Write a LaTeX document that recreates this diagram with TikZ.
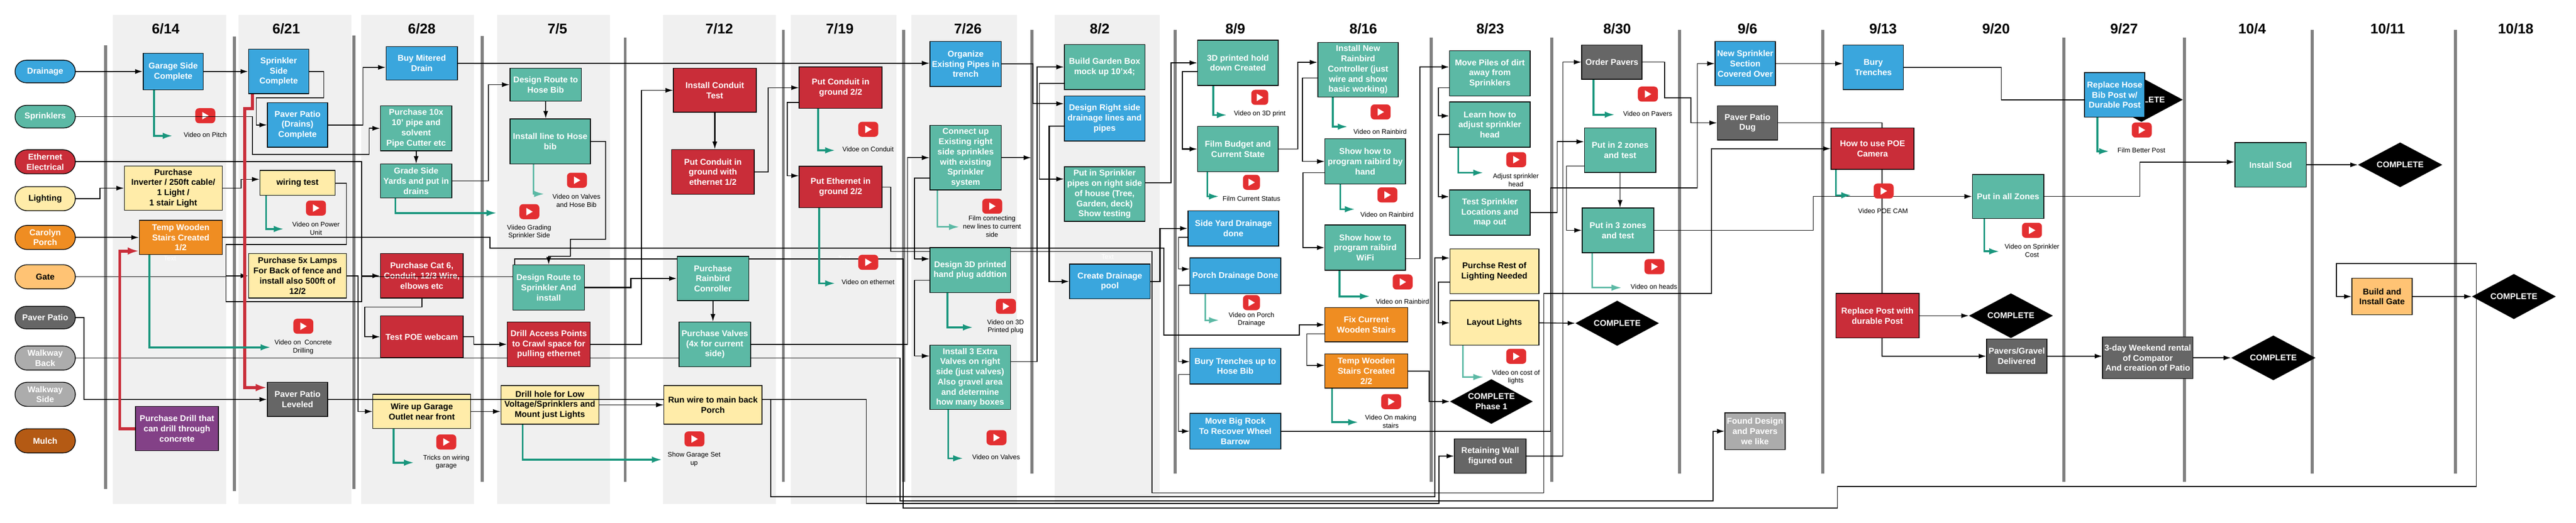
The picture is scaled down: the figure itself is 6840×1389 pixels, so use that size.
\documentclass[tikz,border=0pt]{standalone}
\usepackage{fontspec}
\setmainfont{Liberation Sans}
\usetikzlibrary{arrows.meta, shapes.geometric, shapes.misc}
\definecolor{blu}{HTML}{3AA6DD}
\definecolor{tea}{HTML}{5CB9A5}
\definecolor{crim}{HTML}{C92D39}
\definecolor{yel}{HTML}{FFECA9}
\definecolor{ora}{HTML}{EF8D22}
\definecolor{gat}{HTML}{FFC374}
\definecolor{dgr}{HTML}{666666}
\definecolor{lgr}{HTML}{ACACAC}
\definecolor{mul}{HTML}{B45A14}
\definecolor{pur}{HTML}{834187}
\definecolor{vid}{HTML}{19967D}
\definecolor{tube}{HTML}{E32F31}
\pgfdeclarelayer{band}
\pgfdeclarelayer{top}
\pgfsetlayers{band,main,top}
\tikzset{
  wh/.style 2 args={minimum width=#1*0.5pt, minimum height=#2*0.5pt},
  chore/.style={draw=black, line width=1pt, inner sep=0pt, align=center, text=white,
    font=\bfseries\fontsize{11.2}{13.5}\selectfont},
  lane/.style={chore, rounded rectangle, wh={160}{#1}},
  darkchore/.style={chore, text=black},
  done/.style={diamond, fill=black, inner sep=0pt, aspect=1.85, align=center, text=white,
    font=\bfseries\fontsize{11.2}{13.5}\selectfont},
  date/.style={inner sep=0pt, font=\bfseries\fontsize{18.8}{20}\selectfont},
  vidtext/.style={inner sep=0pt, align=center, font=\fontsize{8.9}{10.7}\selectfont},
  ghost/.style={vidtext, text=white},
  tube/.style={fill=tube, rounded corners=5pt, inner sep=0pt, wh={#1}{40},
    path picture={\fill[white, sharp corners] ([shift={(-8,-10)}]path picture bounding box.center) --
      ([shift={(-8,10)}]path picture bounding box.center) --
      ([shift={(9,0)}]path picture bounding box.center) -- cycle;}},
  tube/.default=53,
  flow/.style={draw=black, line width=1.1pt, -{Latex[length=10pt,width=6.5pt]}},
  heavy/.style={line width=1.5pt},
  vidflow/.style={draw=vid, line width=2.5pt, -{Latex[length=13.5pt,width=8.5pt]}},
  vidpale/.style={draw=tea, line width=2pt, -{Latex[length=13.5pt,width=8.5pt]}},
  redflow/.style={draw=crim, line width=4pt, -{Latex[length=15pt,width=10pt]}},
  week/.style={draw=none, fill=black!50},
}
\begin{document}
\begin{tikzpicture}[x=0.5pt, y=-0.5pt]
  \useasboundingbox (0,0) rectangle (6840,1389);

  \begin{pgfonlayer}{band}
    \foreach \xa/\xb in {300/600, 633/933, 959/1259, 1320/1620, 1760/2060,
      2100/2380, 2420/2700, 2800/3080}
      \fill[black!6] (\xa,40) rectangle (\xb,1339);
    \foreach \xc/\ya/\yb in {280/120/1300, 622/97/1305, 940/95/1300, 1280/96/1280,
      1660/100/1280, 2080/80/1280, 2400/80/1280, 2740/80/1259, 3120/80/1259,
      3800/100/1280, 4120/100/1280, 4460/80/1259, 4840/80/1259, 5480/100/1280,
      5800/100/1280, 6140/80/1259, 6520/80/1259}
      \fill[week] (\xc-4,\ya) rectangle (\xc+4,\yb);
  \end{pgfonlayer}

  \foreach \dx/\dl in {440/6\slash14, 760/6\slash21, 1120/6\slash28, 1480/7\slash5,
    1910/7\slash12, 2230/7\slash19, 2570/7\slash26, 2920/8\slash2, 3280/8\slash9,
    3620/8\slash16, 3957/8\slash23, 4294/8\slash30, 4640/9\slash6, 5000/9\slash13,
    5300/9\slash20, 5640/9\slash27, 5980/10\slash4, 6340/10\slash11, 6680/10\slash18}
    \node[date] at (\dx,76) {\dl};

  \node[lane=60, fill=blu] (drainage) at (120,190) {Drainage};
  \node[lane=60, fill=tea] (sprinklers) at (120,310) {Sprinklers};
  \node[lane=64, fill=crim] (ethernet) at (120,430) {Ethernet\\Electrical};
  \node[lane=64, fill=yel, text=black] (lighting) at (120,528) {Lighting};
  \node[lane=64, fill=ora] (porch) at (120,631) {Carolyn\\Porch};
  \node[lane=64, fill=gat, text=black] (gate) at (120,735.5) {Gate};
  \node[lane=60, fill=dgr] (paver) at (120,844) {Paver Patio};
  \node[lane=64, fill=lgr] (walkback) at (120,951.5) {Walkway\\Back};
  \node[lane=64, fill=lgr] (walkside) at (120,1048) {Walkway\\Side};
  \node[lane=64, fill=mul] (mulch) at (120,1171.5) {Mulch};

  \node[chore, fill=blu, wh={160}{97}] (garageside) at (460,190) {Garage Side\\Complete};
  \node[chore, fill=blu, wh={160}{118}] (sprinklerside) at (740,190) {Sprinkler\\Side\\Complete};
  \node[chore, fill=blu, wh={160}{118}] (patiodrains) at (790,332) {Paver Patio\\(Drains)\\Complete};
  \node[darkchore, fill=yel, wh={260}{118}] (inverter) at (460,500) {Purchase\\Inverter / 250ft cable/\\1 Light /\\1 stair Light};
  \node[darkchore, fill=yel, wh={200}{67}] (wiring) at (790,486) {wiring test};
  \node[chore, fill=ora, wh={220}{91}] (stairsone) at (480,631) {Temp Wooden\\Stairs Created\\1/2};
  \node[darkchore, fill=yel, wh={260}{118}] (lamps) at (790,733) {Purchase 5x Lamps\\For Back of fence and\\install also 500ft of\\12/2};
  \node[chore, fill=dgr, wh={160}{91}] (leveled) at (790,1061.5) {Paver Patio\\Leveled};
  \node[chore, fill=pur, wh={220}{118}] (drill) at (470,1139) {Purchase Drill that\\can drill through\\concrete};

  \node[chore, fill=blu, wh={190}{89}] (mitered) at (1120,168) {Buy Mitered\\Drain};
  \node[chore, fill=tea, wh={190}{120}] (tenpipe) at (1105,341) {Purchase 10x\\10' pipe and\\solvent\\Pipe Cutter etc};
  \node[chore, fill=tea, wh={190}{90}] (gradeside) at (1105,481) {Grade Side\\Yards and put in\\drains};
  \node[chore, fill=crim, wh={220}{118}] (catsix) at (1120,733) {Purchase Cat 6,\\Conduit, 12/3 Wire,\\elbows etc};
  \node[chore, fill=crim, wh={220}{111}] (webcam) at (1120,895) {Test POE webcam};
  \node[darkchore, fill=yel, wh={260}{91}] (outlet) at (1120,1093.5) {Wire up Garage\\Outlet near front};

  \node[chore, fill=tea, wh={190}{88}] (routebib) at (1449,225) {Design Route to\\Hose Bib};
  \node[chore, fill=tea, wh={213}{120}] (linebib) at (1461,376) {Install line to Hose\\bib};
  \node[darkchore, fill=yel, wh={260}{103}] (drillhole) at (1460,1076) {Drill hole for Low\\Voltage/Sprinklers and\\Mount just Lights};

  \node[chore, fill=crim, wh={220}{117}] (conduittest) at (1898,240) {Install Conduit\\Test};
  \node[chore, fill=crim, wh={220}{119}] (conduitone) at (1893,457) {Put Conduit in\\ground with\\ethernet 1/2};
  \node[chore, fill=crim, wh={220}{110}] (conduittwo) at (2232,233) {Put Conduit in\\ground 2/2};
  \node[chore, fill=crim, wh={220}{110}] (ethertwo) at (2232,497) {Put Ethernet in\\ground 2/2};

  \node[chore, fill=blu, wh={190}{120}] (organize) at (2564,170) {Organize\\Existing Pipes in\\trench};
  \node[chore, fill=tea, wh={190}{172}] (connect) at (2564,419) {Connect up\\Existing right\\side sprinkles\\with existing\\Sprinkler\\system};
  \node[chore, fill=tea, wh={214}{171}] (extravalves) at (2576,1003) {Install 3 Extra\\Valves on right\\side (just valves)\\Also gravel area\\and determine\\how many boxes};

  \node[chore, fill=tea, wh={214}{120}] (gardenbox) at (2933,178) {Build Garden Box\\mock up 10'x4;};
  \node[chore, fill=blu, wh={214}{120}] (rightside) at (2933,315) {Design Right side\\drainage lines and\\pipes};
  \node[chore, fill=tea, wh={214}{145}] (pipesright) at (2933,516) {Put in Sprinkler\\pipes on right side\\of house (Tree,\\Garden, deck)\\Show testing};
  \node[chore, fill=blu, wh={214}{92}] (pool) at (2947,748) {Create Drainage\\pool};

  \node[chore, fill=tea, wh={214}{120}] (holddown) at (3287,167) {3D printed hold\\down Created};
  \node[chore, fill=tea, wh={214}{120}] (budget) at (3287,396) {Film Budget and\\Current State};
  \node[chore, fill=blu, wh={241}{94}] (sideyard) at (3275,607) {Side Yard Drainage\\done};
  \node[chore, fill=blu, wh={241}{95}] (porchdrain) at (3280,733) {Porch Drainage Done};
  \node[chore, fill=blu, wh={241}{95}] (trenchbib) at (3280,973) {Bury Trenches up to\\Hose Bib};
  \node[chore, fill=blu, wh={241}{95}] (bigrock) at (3280,1146) {Move Big Rock\\To Recover Wheel\\Barrow};

  \node[chore, fill=tea, wh={214}{145}] (newrainbird) at (3606,185) {Install New\\Rainbird\\Controller (just\\wire and show\\basic working)};
  \node[chore, fill=tea, wh={214}{120}] (byhand) at (3625,429) {Show how to\\program raibird by\\hand};
  \node[chore, fill=tea, wh={214}{120}] (wifi) at (3625,658) {Show how to\\program raibird\\WiFi};
  \node[chore, fill=ora, wh={220}{91}] (fixstairs) at (3628,863) {Fix Current\\Wooden Stairs};
  \node[chore, fill=ora, wh={220}{91}] (stairstwo) at (3628,986) {Temp Wooden\\Stairs Created\\2/2};

  \node[chore, fill=tea, wh={214}{120}] (piles) at (3956,195) {Move Piles of dirt\\away from\\Sprinklers};
  \node[chore, fill=tea, wh={214}{120}] (learnhead) at (3956,331) {Learn how to\\adjust sprinkler\\head};
  \node[chore, fill=tea, wh={214}{120}] (testloc) at (3956,565) {Test Sprinkler\\Locations and\\map out};
  \node[darkchore, fill=yel, wh={236}{119}] (restlights) at (3968,721) {Purchse Rest of\\Lighting Needed};
  \node[darkchore, fill=yel, wh={236}{118}] (layout) at (3968,858) {Layout Lights};
  \node[done, wh={220}{119}] (phaseone) at (3960,1067) {COMPLETE\\Phase 1};
  \node[chore, fill=dgr, wh={190}{91}] (retaining) at (3957,1212) {Retaining Wall\\figured out};

  \node[chore, fill=dgr, wh={160}{91}] (orderpavers) at (4280,165) {Order Pavers};
  \node[chore, fill=tea, wh={190}{118}] (twozones) at (4302,399) {Put in 2 zones\\and test};
  \node[chore, fill=tea, wh={190}{119}] (threezones) at (4296,612) {Put in 3 zones\\and test};
  \node[done, wh={222}{120}] (lightsdone) at (4294,859) {COMPLETE};

  \node[chore, fill=blu, wh={160}{118}] (covered) at (4634,169) {New Sprinkler\\Section\\Covered Over};
  \node[chore, fill=dgr, wh={160}{91}] (dug) at (4640,326.5) {Paver Patio\\Dug};
  \node[chore, fill=lgr, wh={160}{98}] (founddesign) at (4660,1146) {Found Design\\and Pavers\\we like};

  \node[chore, fill=blu, wh={160}{118}] (burytrench) at (4974,179) {Bury\\Trenches};
  \node[chore, fill=tea, wh={190}{117}] (allzones) at (5332,522) {Put in all Zones};
  \node[done, wh={223}{119}] (postdone) at (5339.5,839) {COMPLETE};
  \node[chore, fill=dgr, wh={160}{91}] (delivered) at (5355,946.5) {Pavers/Gravel\\Delivered};
  \node[done, wh={220}{118}] (hosedone) at (5686,265) {COMPLETE};
  \node[chore, fill=dgr, wh={240}{111}] (compactor) at (5703,951) {3-day Weekend rental\\of Compator\\And creation of Patio};
  \node[chore, fill=tea, wh={190}{118}] (sod) at (6029,438) {Install Sod};
  \node[done, wh={224}{119}] (patiodone) at (6036.3,951) {COMPLETE};
  \node[done, wh={224}{119}] (soddone) at (6373,438) {COMPLETE};
  \node[darkchore, fill=gat, wh={160}{97}] (buildgate) at (6325,788) {Build and\\Install Gate};
  \node[done, wh={223}{120}] (gatedone) at (6675,788) {COMPLETE};

  \node[tube] (tubepitch) at (545,307.5) {};
  \node[vidtext] (txtpitch) at (545,358.7) {Video on Pitch};
  \node[ghost] (ghostone) at (451,687) {Text};
  \node[ghost] (ghosttwo) at (1470,688) {Text};
  \node[ghost] (ghostthree) at (2242,687) {Text};
  \node[ghost] (ghostfour) at (2941,683) {Text};

  \begin{pgfonlayer}{top}
    \node[chore, fill=tea, wh={190}{120}] (routesprink) at (1457,764) {Design Route to\\Sprinkler And\\install};
    \node[chore, fill=crim, wh={220}{119}] (accesspts) at (1457,915) {Drill Access Points\\to Crawl space for\\pulling ethernet};
    \node[chore, fill=tea, wh={190}{118}] (rainbird) at (1893,740) {Purchase\\Rainbird\\Conroller};
    \node[chore, fill=tea, wh={190}{119}] (valves) at (1898,915) {Purchase Valves\\(4x for current\\side)};
    \node[darkchore, fill=yel, wh={260}{103}] (runwire) at (1893,1076) {Run wire to main back\\Porch};
    \node[chore, fill=tea, wh={214}{120}] (plugdesign) at (2576,718) {Design 3D printed\\hand plug addtion};
    \node[chore, fill=crim, wh={220}{110}] (poecam) at (4972,395) {How to use POE\\Camera};
    \node[chore, fill=crim, wh={221}{118}] (replacepost) at (4985,839) {Replace Post with\\durable Post};
    \node[chore, fill=blu, wh={160}{118}] (hosepost) at (5615,252) {Replace Hose\\Bib Post w/\\Durable Post};

    \node[tube] (tubepower) at (839,553) {};
    \node[vidtext] (txtpower) at (839,607) {Video on Power\\Unit};
    \node[tube] (tubedrill) at (805.5,867) {};
    \node[vidtext] (txtdrill) at (805,922) {Video on\ \ Concrete\\Drilling};
    \node[tube] (tubegarage) at (1185,1174.6) {};
    \node[vidtext] (txtgarage) at (1185,1228) {Tricks on wiring\\garage};
    \node[tube] (tubevalves) at (1532,479) {};
    \node[vidtext] (txtvalves) at (1530.6,533) {Video on Valves\\and Hose Bib};
    \node[tube] (tubegrade) at (1405.6,562.5) {};
    \node[vidtext] (txtgrade) at (1405,616.5) {Viideo Grading\\Sprinkler Side};
    \node[tube] (tubeshow) at (1844,1166.6) {};
    \node[vidtext] (txtshow) at (1843,1220.7) {Show Garage Set\\up};
    \node[tube] (tubeconduit) at (2305.5,343.7) {};
    \node[vidtext] (txtconduit) at (2305,397) {Vidoe on Conduit};
    \node[tube] (tubeether) at (2305.5,697) {};
    \node[vidtext] (txtether) at (2305,749.4) {Video on ethernet};
    \node[tube] (tubeconnect) at (2634.6,548) {};
    \node[vidtext] (txtconnect) at (2634,601.5) {Film connecting\\new lines to current\\side};
    \node[tube] (tubeplug) at (2671,814) {};
    \node[vidtext] (txtplug) at (2670,868) {Video on 3D\\Printed plug};
    \node[tube] (tubeextra) at (2646,1163) {};
    \node[vidtext] (txtextra) at (2645,1214.5) {Video on Valves};
    \node[tube=45] (tubehold) at (3345,258.7) {};
    \node[vidtext] (txthold) at (3345,302) {Video on 3D print};
    \node[tube=45] (tubebudget) at (3323,484.5) {};
    \node[vidtext] (txtbudget) at (3323,528) {Film Current Status};
    \node[tube=45] (tubeporch) at (3323,804.3) {};
    \node[vidtext] (txtporch) at (3323,849) {Video on Porch\\Drainage};
    \node[tube] (tubenew) at (3666,297.6) {};
    \node[vidtext] (txtnew) at (3664.6,350) {Video on Rainbird};
    \node[tube] (tubehand) at (3684,518) {};
    \node[vidtext] (txthand) at (3683,569.6) {Video on Rainbird};
    \node[tube] (tubewifi) at (3724.5,749.4) {};
    \node[vidtext] (txtwifi) at (3724,801) {Video on Rainbird};
    \node[tube] (tubestairs) at (3694,1067.4) {};
    \node[vidtext] (txtstairs) at (3692.6,1120.6) {Video On making\\stairs};
    \node[tube] (tubehead) at (4026,424.3) {};
    \node[vidtext] (txthead) at (4025,479) {Adjust sprinkler\\head};
    \node[tube] (tubelights) at (4026,947) {};
    \node[vidtext] (txtlights) at (4025,1002) {Video on cost of\\lights};
    \node[tube] (tubepavers) at (4375.6,250) {};
    \node[vidtext] (txtpavers) at (4375,302) {Video on Pavers};
    \node[tube] (tubeheads) at (4393,708.6) {};
    \node[vidtext] (txtheads) at (4391.6,762) {Video on heads};
    \node[tube] (tubepoe) at (5001.6,507.6) {};
    \node[vidtext] (txtpoe) at (5000,560.7) {Video POE CAM};
    \node[tube] (tubesprink) at (5395.4,612) {};
    \node[vidtext] (txtsprink) at (5395.4,666) {Video on Sprinkler\\Cost};
    \node[tube] (tubepost) at (5687,345.5) {};
    \node[vidtext] (txtpost) at (5686,398.6) {Film Better Post};
  \end{pgfonlayer}

  \draw[flow, heavy] (drainage.east) -- (garageside.west);
  \draw[flow, heavy] (garageside.east) -- (sprinklerside.west);
  \draw[flow] (sprinklerside.east) -- (860,190) -- (860,259.5) -- (680.5,259.5) |- (patiodrains.west);
  \draw[flow] (patiodrains.east) -- (963.5,332) |- (mitered.west |- 0,179);
  \draw[flow] (mitered.east) -- (organize.west |- mitered.east);
  \draw[flow] (sprinklers.east) -- (670,310) -- (670,410) -- (980,410) |- (tenpipe.west);
  \draw[flow] (tenpipe.south) -- (gradeside.north);
  \draw[flow, heavy] (ethernet.east) -- (960,430) |- (catsix.west);
  \draw[flow] (catsix.south) -- (1120,816) -- (968.7,816) |- (webcam.west);
  \draw[flow] (lighting.east) -- (265,528) |- (inverter.west);
  \draw[flow] (inverter.east) -- (640,500) |- (wiring.west |- 0,476.5);
  \draw[flow] (wiring.east |- 0,487) -- (920,487) -- (920,650) -- (600,650) |- (lamps.west);
  \draw[flow, heavy] (porch.east) -- (stairsone.west);
  \draw[flow, heavy] (stairsone.east) -- (1301,631) -- (1301,659) -- (3090.6,659) -- (3090.6,890)
    -- (3449.6,890) |- (fixstairs.west);
  \draw[flow] (fixstairs.west |- 0,887) -- (3470,887) |- (stairstwo.west |- 0,971);
  \draw[flow] (stairstwo.east) -- (3795,986) |- (phaseone.west);
  \draw[flow] (paver.east) -- (222.6,844) |- (leveled.west);
  \draw[flow] (walkback.east) -- (2390,951.5) -- (2390,1331) -- (4548.5,1331) |- (founddesign.west);
  \draw[flow] (lamps.east) -- (951,733) |- (outlet.west);
  \draw[flow] (leveled.east) -- (2300,1061.5) -- (2300,1337.6) -- (3821,1337.6) |- (retaining.west);
  \draw[flow] (runwire.east |- 0,1061) -- (2046.5,1061) -- (2046.5,1320) -- (3810,1320)
    |- (restlights.west |- 0,685.6);
  \draw[flow] (outlet.east) -- (drillhole.west |- outlet.east);
  \draw[flow] (drillhole.east) -- (runwire.west |- drillhole.east);
  \draw[flow] (gate.east) -- (600,735.5) -- (600,801.6) -- (960,801.6) -- (960,735.5) -- (1366.7,735.5)
    -- (1366.7,688) -- (2398,688) -- (2398,1350) -- (4879,1350) -- (4879,1292.5) -- (6575,1292.5)
    -- (6575,700) -- (6204,700) |- (buildgate.west);
  \draw[flow] (buildgate.east) -- (gatedone.west);
  \draw[flow] (gradeside.east) -- (1296.6,481) |- (routebib.west);
  \draw[flow, heavy] (routebib.south) -- (routebib.south |- linebib.north);
  \draw[flow] (linebib.east) -- (1608,376) -- (1608,636) -- (1514.7,636) -- (1514.7,681)
    -- (1456.7,681) -- (routesprink.north);
  \draw[flow, heavy] (routesprink.east) -- (1675,764) |- (rainbird.west);
  \draw[flow] (rainbird.south) -- (rainbird.south |- valves.north);
  \draw[flow] (valves.east) -- (2409.5,915) |- (connect.west);
  \draw[flow] (webcam.east) -- (1258,895) |- (accesspts.west);
  \draw[flow] (accesspts.east) -- (1703.5,915) |- (conduittest.west);
  \draw[flow, heavy] (conduittest.south -| 1898,0) -- (conduitone.north -| 1898,0);
  \draw[flow] (conduitone.east) -- (2039.5,457) |- (conduittwo.west);
  \draw[flow] (conduittwo.west |- 0,272) -- (2090,272) |- (ethertwo.west |- 0,467);
  \draw[flow] (ethertwo.east) -- (2365.5,497) -- (2365.5,668) -- (3059,668) -- (3059,1310)
    -- (4099,1310) -- (4099,779.5) -- (4544.7,779.5) |- (poecam.west);
  \coordinate (barend) at (2738,419);
  \draw[flow] (connect.east) -- (barend);
  \draw[flow] (connect.west |- 0,473) -- (2428,473) |- (plugdesign.west |- 0,688);
  \draw[flow] (plugdesign.west |- 0,745) -- (2428,745) |- (extravalves.west |- 0,946);
  \draw[flow] (extravalves.east |- 0,961) -- (2754,961) |- (gardenbox.west);
  \draw[flow, heavy] (organize.east) -- (2743,170) |- (rightside.west |- 0,275.5);
  \draw[flow] (gardenbox.west |- 0,221.5) -- (2760,221.5) |- (pipesright.west |- 0,475.7);
  \draw[flow, heavy] (rightside.west |- 0,335) -- (2785.8,335) |- (pool.west);
  \draw[flow] (pipesright.east |- 0,486) -- (3109.7,486) |- (holddown.west);
  \draw[flow, heavy] (holddown.west |- 0,190.5) -- (3139,190.5) |- (budget.west);
  \draw[flow] (budget.east) -- (3446,396) |- (newrainbird.west |- 0,165.6);
  \draw[flow] (newrainbird.west |- 0,207) -- (3458.6,207) |- (byhand.west);
  \draw[flow] (byhand.west |- 0,459) -- (3460,459) |- (wifi.west);
  \draw[flow] (wifi.east |- 0,687.4) -- (3770,687.4) |- (piles.west |- 0,178);
  \draw[flow, heavy] (pool.east) -- (3080,748) |- (sideyard.west);
  \draw[flow] (sideyard.west |- 0,631) -- (3129.5,631) |- (porchdrain.west |- 0,715);
  \draw[flow] (porchdrain.west |- 0,758) -- (3129.5,758) |- (trenchbib.west |- 0,961);
  \draw[flow] (trenchbib.west |- 0,995) -- (3129.5,995) |- (bigrock.west);
  \draw[flow] (bigrock.east) -- (4117,1146) -- (4117,499.6) -- (4507,499.6) |- (covered.west);
  \draw[flow] (covered.east) -- (burytrench.west |- covered.east);
  \draw[flow] (burytrench.east) -- (5314,179) -- (5314,265) -- (hosedone.west);
  \draw[flow] (piles.west |- 0,233) -- (3819.6,233) |- (learnhead.west |- 0,308);
  \draw[flow] (learnhead.west |- 0,357) -- (3819.6,357) |- (testloc.west |- 0,522.6);
  \draw[flow] (testloc.east) -- (4134.6,565) |- (twozones.west |- 0,376.5);
  \draw[flow] (twozones.south -| 4301.7,0) -- (threezones.north -| 4301.7,0);
  \draw[flow] (twozones.west |- 0,441) -- (4159.5,441) |- (threezones.west);
  \draw[flow] (orderpavers.east) -- (4419.7,165) -- (4419.7,259.5) -- (4489.8,259.5) |- (dug.west);
  \draw[flow] (retaining.east) -- (4150,1212) |- (orderpavers.west);
  \draw[flow] (restlights.west |- 0,750) -- (3819.6,750) |- (layout.west);
  \draw[flow] (layout.east) -- (lightsdone.west);
  \draw[flow] (threezones.east) -- (4814.5,612) |- (allzones.west);
  \draw[flow] (allzones.east) -- (5681.8,522) |- (sod.west |- 0,430.5);
  \draw[flow] (sod.east) -- (soddone.west);
  \draw[flow] (replacepost.east) -- (postdone.west);
  \draw[flow] (dug.east) -- (4997,326.5) |- (delivered.west);
  \draw[flow] (delivered.east) -- (compactor.west |- delivered.east);
  \draw[flow] (compactor.east) -- (patiodone.west);

  \draw[redflow] (drill.west) -- (318,1139) |- (stairsone.west |- 0,667);
  \draw[redflow] (sprinklerside.south -| 670,0) -- (670,289) -- (650,289) |- (leveled.west |- 0,1030);

  \foreach \tag/\src/\sx/\ex/\ey in {
      garage/garageside/409/459/361, wire/wiring/706.6/754/608.5, stair/stairsone/397/719/923,
      grade/gradeside/1050/1319/566, outl/outlet/1045/1099.5/1229.5, hole/drillhole/1388/1758/1221.6,
      cond/conduittwo/2172/2218/399.5, ethr/ethertwo/2175/2218/753, plug/plugdesign/2516/2584/870,
      extr/extravalves/2518/2558/1218, hold/holddown/3222/3258/305.6, budg/budget/3206/3237/522,
      newr/newrainbird/3539/3579/336.6, hand/byhand/3558.7/3598/556, wifi/wifi/3557/3638/787.5,
      stai/stairstwo/3537/3607/1122, lear/learnhead/3872/3939/459, orde/orderpavers/4231/4288/304.7,
      poec/poecam/4875/4916/519, allz/allzones/5269/5309/668, host/hosepost/5569/5600.7/402} {
    \coordinate (end\tag) at (\ex,\ey);
    \draw[vidflow] (\src.south -| \sx,0) |- (end\tag);
  }
  \foreach \tag/\src/\sx/\ex/\ey in {
      link/linebib/1416.5/1445/515.5, conn/connect/2489/2547/603, pord/porchdrain/3201/3237/851,
      layo/layout/3884.6/3939/1002, thre/threezones/4228/4306/764.5} {
    \coordinate (end\tag) at (\ex,\ey);
    \draw[vidpale] (\src.south -| \sx,0) |- (end\tag);
  }
\end{tikzpicture}
\end{document}
